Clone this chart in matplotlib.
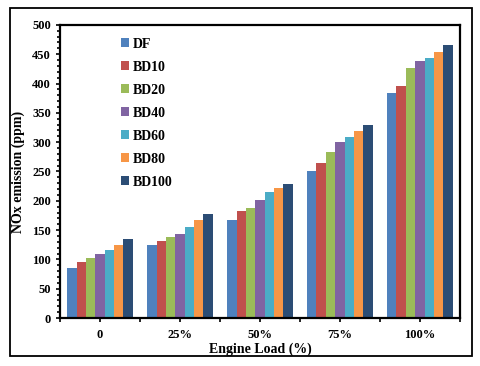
import matplotlib.pyplot as plt
import numpy as np
from matplotlib.patches import Rectangle
from matplotlib.ticker import MultipleLocator

plt.rcParams['font.family'] = ['Liberation Serif', 'DejaVu Serif']
plt.rcParams['font.weight'] = 'bold'

loads = ['0', '25%', '50%', '75%', '100%']
fuels = ['DF', 'BD10', 'BD20', 'BD40', 'BD60', 'BD80', 'BD100']
colors = ['#4F81BD', '#C0504D', '#9BBB59', '#8064A2', '#4BACC6', '#F79646', '#2C4D75']

nox_df = [85, 124, 168, 250, 383]
nox_bd10 = [95, 132, 183, 264, 395]
nox_bd20 = [103, 139, 188, 283, 427]
nox_bd40 = [109, 144, 202, 300, 439]
nox_bd60 = [116, 156, 215, 309, 444]
nox_bd80 = [125, 167, 222, 319, 453]
nox_bd100 = [134, 178, 229, 330, 466]
series = [nox_df, nox_bd10, nox_bd20, nox_bd40, nox_bd60, nox_bd80, nox_bd100]

fig = plt.figure(figsize=(4.8, 3.66), dpi=100)
ax = fig.add_axes([0.125, 0.131, 0.833, 0.801])

x = np.arange(len(loads))
n = len(fuels)
group_w = 0.82
w = group_w / n
for i, f in enumerate(fuels):
    ax.bar(x - group_w / 2 + w * (i + 0.5), series[i], w, color=colors[i], label=f)

ax.set_xlim(-0.5, len(loads) - 0.5)
ax.set_ylim(0, 500)
ax.yaxis.set_major_locator(MultipleLocator(50))
ax.yaxis.set_minor_locator(MultipleLocator(10))
ax.set_xticks(x)
ax.set_xticklabels(loads)
ax.set_xticks(np.arange(-0.5, len(loads)), minor=True)

ax.tick_params(axis='both', which='both', direction='out', width=1.2, labelsize=9)
ax.tick_params(axis='y', which='major', length=3)
ax.tick_params(axis='y', which='minor', length=2)
ax.tick_params(axis='x', which='both', length=3, pad=5)
for s in ax.spines.values():
    s.set_linewidth(1.6)
    s.set_color('black')

ax.set_ylabel('NOx emission (ppm)', fontsize=10, fontweight='bold', labelpad=5)
ax.set_xlabel('Engine Load (%)', fontsize=10, fontweight='bold', labelpad=1)

leg = ax.legend(loc='upper left', bbox_to_anchor=(0.138, 0.975), frameon=False,
                fontsize=10, handlelength=0.6, handleheight=0.6, handletextpad=0.3,
                labelspacing=0.72, borderaxespad=0)

# outer border round the whole chart
fig.patches.append(Rectangle((10 / 480, 10 / 366), 462 / 480, 348 / 366,
                             transform=fig.transFigure, fill=False,
                             edgecolor='black', linewidth=1.3))

fig.savefig('out.png', dpi=100)
